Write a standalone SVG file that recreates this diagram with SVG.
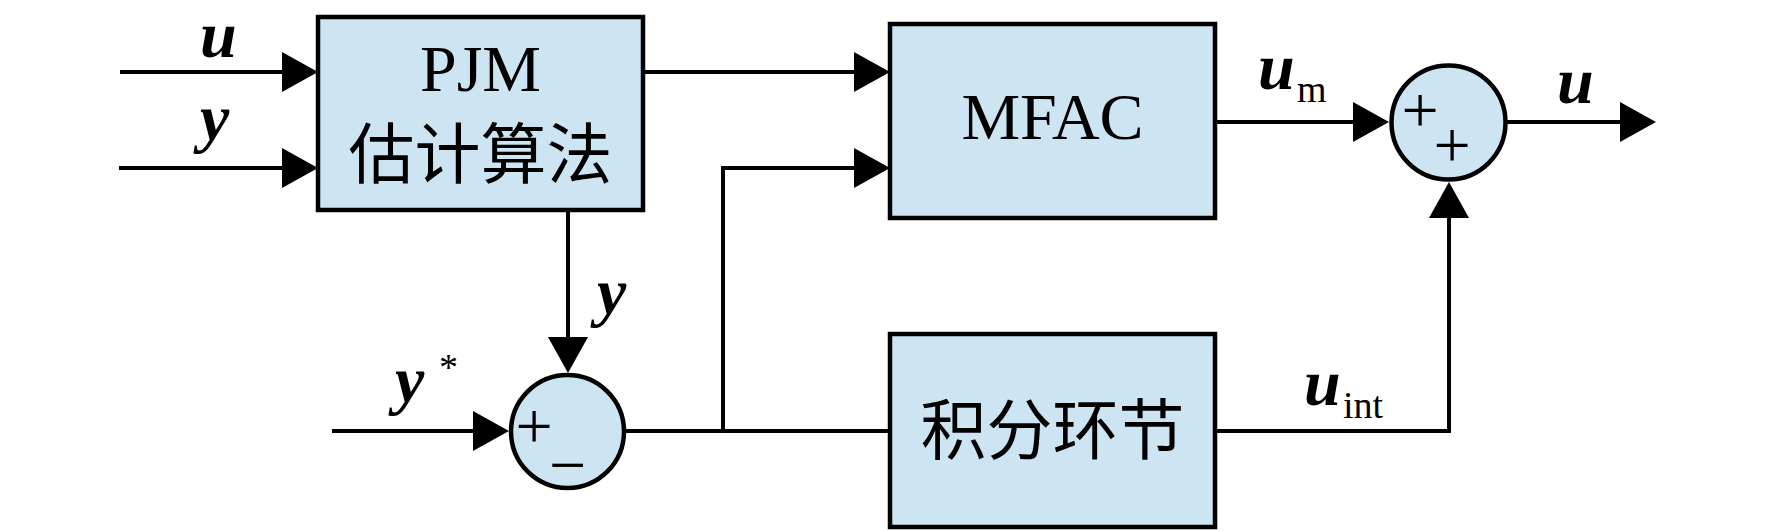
<svg xmlns="http://www.w3.org/2000/svg" width="1772" height="531" viewBox="0 0 1772 531">
<style>
.box{fill:#cde4f2;stroke:#000;stroke-width:4.5}
.sum{fill:#cde4f2;stroke:#000;stroke-width:4.5}
.ln{fill:none;stroke:#000;stroke-width:4}
.t{font-family:"Liberation Serif","Noto Sans CJK SC",serif;font-size:66px;fill:#000;text-anchor:middle}
.cn{font-family:"Liberation Serif","Noto Sans CJK SC",serif;font-size:66px;fill:#000;text-anchor:middle}
.v{font-family:"Liberation Serif",serif;font-size:66px;font-weight:bold;font-style:italic;fill:#000}
.s{font-family:"Liberation Serif",serif;font-size:38px;fill:#000}
.sg{font-family:"Liberation Serif",serif;font-size:66px;fill:#000;text-anchor:middle}
</style>
<defs>
<marker id="ah" markerUnits="userSpaceOnUse" markerWidth="36" markerHeight="40" refX="26" refY="20" orient="auto" viewBox="0 0 36 40">
<path d="M0,0 L36,20 L0,40 z" fill="#000"/>
</marker>
</defs>
<g id="connectors">
<line class="ln" x1="120" y1="72" x2="308" y2="72" marker-end="url(#ah)"/>
<line class="ln" x1="119" y1="168" x2="308" y2="168" marker-end="url(#ah)"/>
<line class="ln" x1="643" y1="72" x2="880" y2="72" marker-end="url(#ah)"/>
<polyline class="ln" points="723,431 723,168 880,168" marker-end="url(#ah)"/>
<line class="ln" x1="568" y1="210" x2="568" y2="363" marker-end="url(#ah)"/>
<line class="ln" x1="332" y1="431" x2="499" y2="431" marker-end="url(#ah)"/>
<line class="ln" x1="624" y1="431" x2="890" y2="431"/>
<line class="ln" x1="1215" y1="122" x2="1379" y2="122" marker-end="url(#ah)"/>
<line class="ln" x1="1507" y1="122" x2="1646" y2="122" marker-end="url(#ah)"/>
<polyline class="ln" points="1215,431 1449,431 1449,192" marker-end="url(#ah)"/>
</g>
<g id="pjm">
<rect class="box" x="318" y="17" width="325" height="193"/>
<text class="t" x="480.5" y="91" font-size="70">PJM</text>
<text class="cn" x="480.5" y="178">估计算法</text>
</g>
<g id="mfac">
<rect class="box" x="890" y="24" width="325" height="194"/>
<text class="t" x="1052.5" y="139">MFAC</text>
</g>
<g id="integral">
<rect class="box" x="890" y="334" width="325" height="193"/>
<text class="cn" x="1052.5" y="454">积分环节</text>
</g>
<g id="sum1">
<circle class="sum" cx="567.5" cy="431.5" r="56.5"/>
<text class="sg" x="534" y="448">+</text>
<text class="sg" x="567.5" y="487">−</text>
</g>
<g id="sum2">
<circle class="sum" cx="1448.5" cy="122.5" r="57"/>
<text class="sg" x="1420" y="132" font-size="60">+</text>
<text class="sg" x="1452" y="167" font-size="60">+</text>
</g>
<g id="labels">
<text class="v" x="200" y="57" font-size="64">u</text>
<text class="v" x="200" y="140">y</text>
<text class="v" x="597" y="314">y</text>
<text class="v" x="395" y="402">y</text>
<text class="s" x="439" y="380">*</text>
<text class="v" x="1258" y="89">u</text>
<text class="s" x="1297" y="102">m</text>
<text class="v" x="1557" y="103">u</text>
<text class="v" x="1304" y="405">u</text>
<text class="s" x="1343" y="418">int</text>
</g>
</svg>
